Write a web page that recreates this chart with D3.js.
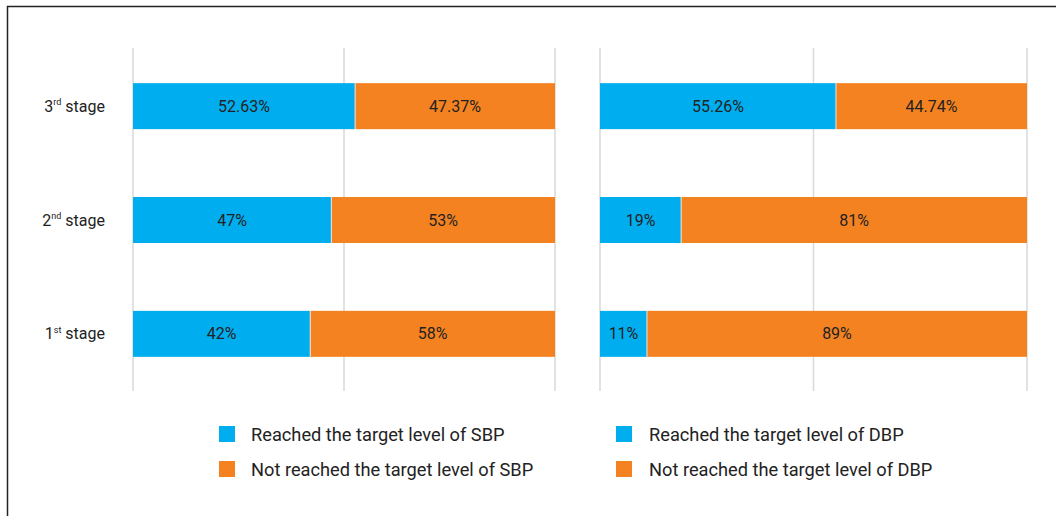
<!DOCTYPE html>
<html>
<head>
<meta charset="utf-8">
<script src="https://cdn.jsdelivr.net/npm/d3@7"></script>
<style>
  body { margin: 0; background: #fff; }
  svg { display: block; }
  text { font-family: "Liberation Sans Narrow", "Roboto", "Noto Sans", sans-serif; }
</style>
</head>
<body>
<div id="chart"></div>
<script>
const WIDTH = 1056;
const HEIGHT = 516;

const etapas = ["3", "2", "1"];
const sufijos = ["rd", "nd", "st"];
const sbpAlcanzado = [52.63, 47, 42];
const sbpNoAlcanzado = [47.37, 53, 58];
const dbpAlcanzado = [55.26, 19, 11];
const dbpNoAlcanzado = [44.74, 81, 89];
const etiquetasSbp = ["52.63%", "47%", "42%"];
const etiquetasSbpNo = ["47.37%", "53%", "58%"];
const etiquetasDbp = ["55.26%", "19%", "11%"];
const etiquetasDbpNo = ["44.74%", "81%", "89%"];
const leyendaSbp = ["Reached the target level of SBP", "Not reached the target level of SBP"];
const leyendaDbp = ["Reached the target level of DBP", "Not reached the target level of DBP"];

const AZUL = "#00aeef";
const NARANJA = "#f58220";

const SVG = d3.select("#chart").append("svg")
  .attr("width", WIDTH).attr("height", HEIGHT);

// marco (solo se ven arriba y a la izquierda)
SVG.append("rect")
  .attr("x", 7.5).attr("y", 6.5)
  .attr("width", 1100).attr("height", 600)
  .attr("fill", "none").attr("stroke", "#222").attr("stroke-width", 1.5);

const y = d3.scaleBand()
  .domain(etapas)
  .range([49, 391])
  .paddingInner(0.596)
  .paddingOuter(0.3);

function panel(x0, x1, alcanzado, noAlcanzado, etA, etN) {
  const x = d3.scaleLinear().domain([0, 100]).range([x0, x1]);
  const g = SVG.append("g");

  g.selectAll("line.grid")
    .data([0, 50, 100])
    .enter().append("line")
    .attr("x1", d => x(d)).attr("x2", d => x(d))
    .attr("y1", 48).attr("y2", 391)
    .attr("stroke", "#d9d9d9").attr("stroke-width", 1.5);

  const filas = etapas.map((e, i) => ({ e, a: alcanzado[i], n: noAlcanzado[i], la: etA[i], ln: etN[i] }));

  g.selectAll("rect.a").data(filas).enter().append("rect")
    .attr("x", x(0)).attr("y", d => y(d.e))
    .attr("width", d => x(d.a) - x(0)).attr("height", y.bandwidth())
    .attr("fill", AZUL);

  g.selectAll("rect.n").data(filas).enter().append("rect")
    .attr("x", d => x(d.a)).attr("y", d => y(d.e))
    .attr("width", d => x(d.a + d.n) - x(d.a)).attr("height", y.bandwidth())
    .attr("fill", NARANJA);

  g.selectAll("line.sep").data(filas).enter().append("line")
    .attr("x1", d => x(d.a)).attr("x2", d => x(d.a))
    .attr("y1", d => y(d.e)).attr("y2", d => y(d.e) + y.bandwidth())
    .attr("stroke", "#f3e4d6").attr("stroke-width", 1);

  g.selectAll("text.a").data(filas).enter().append("text")
    .attr("x", d => (x(0) + x(d.a)) / 2)
    .attr("y", d => y(d.e) + y.bandwidth() / 2)
    .attr("dy", "0.35em").attr("text-anchor", "middle")
    .attr("font-size", "16px").attr("fill", "#222")
    .text(d => d.la);

  g.selectAll("text.n").data(filas).enter().append("text")
    .attr("x", d => (x(d.a) + x(d.a + d.n)) / 2)
    .attr("y", d => y(d.e) + y.bandwidth() / 2)
    .attr("dy", "0.35em").attr("text-anchor", "middle")
    .attr("font-size", "16px").attr("fill", "#222")
    .text(d => d.ln);
}

panel(133, 555, sbpAlcanzado, sbpNoAlcanzado, etiquetasSbp, etiquetasSbpNo);
panel(600, 1027, dbpAlcanzado, dbpNoAlcanzado, etiquetasDbp, etiquetasDbpNo);

// etiquetas de las etapas
etapas.forEach((e, i) => {
  const t = SVG.append("text")
    .attr("x", 105).attr("y", y(e) + y.bandwidth() / 2)
    .attr("dy", "0.35em").attr("text-anchor", "end")
    .attr("font-size", "16px").attr("fill", "#222");
  t.append("tspan").text(e);
  t.append("tspan").attr("font-size", "9px").attr("dy", "-0.75em").text(sufijos[i]);
  t.append("tspan").attr("dy", "0.42em").text(" stage");
});

// leyendas (texto algo estrecho, como en el original)
function leyenda(xCuadro, xTexto, textos) {
  textos.forEach((txt, i) => {
    const yy = 426 + i * 35;
    SVG.append("rect").attr("x", xCuadro).attr("y", yy)
      .attr("width", 16).attr("height", 16)
      .attr("fill", i === 0 ? AZUL : NARANJA);
    SVG.append("text")
      .attr("transform", `translate(${xTexto},${yy + 8}) scale(0.96,1)`)
      .attr("dy", "0.35em").attr("font-size", "19px").attr("fill", "#222")
      .text(txt);
  });
}
leyenda(219, 251, leyendaSbp);
leyenda(616, 649, leyendaDbp);
</script>
</body>
</html>
